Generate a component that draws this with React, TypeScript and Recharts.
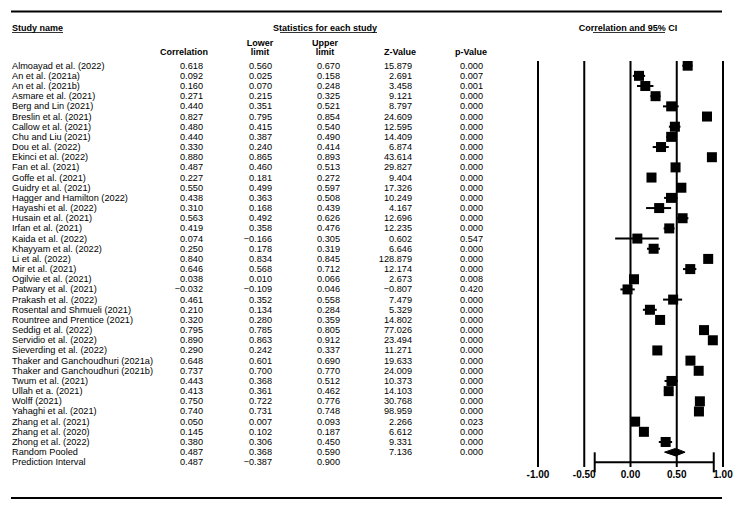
import { ComposedChart, Scatter, ErrorBar, Area, XAxis, YAxis, ReferenceLine } from 'recharts'

const studyNames = [
  'Almoayad et al. (2022)', 'An et al. (2021a)', 'An et al. (2021b)', 'Asmare et al. (2021)',
  'Berg and Lin (2021)', 'Breslin et al. (2021)', 'Callow et al. (2021)', 'Chu and Liu (2021)',
  'Dou et al. (2022)', 'Ekinci et al. (2022)', 'Fan et al. (2021)', 'Goffe et al. (2021)',
  'Guidry et al. (2021)', 'Hagger and Hamilton (2022)', 'Hayashi et al. (2022)', 'Husain et al. (2021)',
  'Irfan et al. (2021)', 'Kaida et al. (2022)', 'Khayyam et al. (2022)', 'Li et al. (2022)',
  'Mir et al. (2021)', 'Ogilvie et al. (2021)', 'Patwary et al. (2021)', 'Prakash et al. (2022)',
  'Rosental and Shmueli (2021)', 'Rountree and Prentice (2021)', 'Seddig et al. (2022)', 'Servidio et al. (2022)',
  'Sieverding et al. (2022)', 'Thaker and Ganchoudhuri (2021a)', 'Thaker and Ganchoudhuri (2021b)', 'Twum et al. (2021)',
  'Ullah et a. (2021)', 'Wolff (2021)', 'Yahaghi et al. (2021)', 'Zhang et al. (2021)',
  'Zhang et al. (2020)', 'Zhong et al. (2022)',
]
const correlation = [
  0.618, 0.092, 0.160, 0.271, 0.440, 0.827, 0.480, 0.440, 0.330, 0.880, 0.487, 0.227, 0.550,
  0.438, 0.310, 0.563, 0.419, 0.074, 0.250, 0.840, 0.646, 0.038, -0.032, 0.461, 0.210, 0.320,
  0.795, 0.890, 0.290, 0.648, 0.737, 0.443, 0.413, 0.750, 0.740, 0.050, 0.145, 0.380,
]
const lowerLimit = [
  0.560, 0.025, 0.070, 0.215, 0.351, 0.795, 0.415, 0.387, 0.240, 0.865, 0.460, 0.181, 0.499,
  0.363, 0.168, 0.492, 0.358, -0.166, 0.178, 0.834, 0.568, 0.010, -0.109, 0.352, 0.134, 0.280,
  0.785, 0.863, 0.242, 0.601, 0.700, 0.368, 0.361, 0.722, 0.731, 0.007, 0.102, 0.306,
]
const upperLimit = [
  0.670, 0.158, 0.248, 0.325, 0.521, 0.854, 0.540, 0.490, 0.414, 0.893, 0.513, 0.272, 0.597,
  0.508, 0.439, 0.626, 0.476, 0.305, 0.319, 0.845, 0.712, 0.066, 0.046, 0.558, 0.284, 0.359,
  0.805, 0.912, 0.337, 0.690, 0.770, 0.512, 0.462, 0.776, 0.748, 0.093, 0.187, 0.450,
]
const zValue = [
  15.879, 2.691, 3.458, 9.121, 8.797, 24.609, 12.595, 14.409, 6.874, 43.614, 29.827, 9.404, 17.326,
  10.249, 4.167, 12.696, 12.235, 0.602, 6.646, 128.879, 12.174, 2.673, -0.807, 7.479, 5.329, 14.802,
  77.026, 23.494, 11.271, 19.633, 24.009, 10.373, 14.103, 30.768, 98.959, 2.266, 6.612, 9.331,
]
const pValue = [
  0.000, 0.007, 0.001, 0.000, 0.000, 0.000, 0.000, 0.000, 0.000, 0.000, 0.000, 0.000, 0.000,
  0.000, 0.000, 0.000, 0.000, 0.547, 0.000, 0.000, 0.000, 0.008, 0.420, 0.000, 0.000, 0.000,
  0.000, 0.000, 0.000, 0.000, 0.000, 0.000, 0.000, 0.000, 0.000, 0.023, 0.000, 0.000,
]

// Random Pooled, Prediction Interval
const summaryNames = ['Random Pooled', 'Prediction Interval']
const summaryCorrelation = [0.487, 0.487]
const summaryLower = [0.368, -0.387]
const summaryUpper = [0.590, 0.900]
const summaryZ = [7.136, null]
const summaryP = [0.000, null]

const xTicks = [-1, -0.5, 0, 0.5, 1]

const FONT = '"Liberation Sans", Arial, sans-serif'

const allNames = [...studyNames, ...summaryNames]
const allCorr = [...correlation, ...summaryCorrelation]
const allLower = [...lowerLimit, ...summaryLower]
const allUpper = [...upperLimit, ...summaryUpper]
const allZ: (number | null)[] = [...zValue, ...summaryZ]
const allP: (number | null)[] = [...pValue, ...summaryP]
const rowTicks = allNames.map((_, i) => i)

const pooledRow = studyNames.length
const predRow = studyNames.length + 1

const studyPoints = studyNames.map((_, i) => ({
  x: correlation[i],
  row: i,
  ci: [correlation[i] - lowerLimit[i], upperLimit[i] - correlation[i]],
}))

const predPoint = [
  {
    x: summaryCorrelation[1],
    row: predRow,
    ci: [summaryCorrelation[1] - summaryLower[1], summaryUpper[1] - summaryCorrelation[1]],
  },
]

const diamondHalf = 0.37
const pooledDiamond = [
  { x: summaryLower[0], band: [pooledRow, pooledRow] },
  { x: summaryCorrelation[0], band: [pooledRow - diamondHalf, pooledRow + diamondHalf] },
  { x: summaryUpper[0], band: [pooledRow, pooledRow] },
]

const fmt = (v: number | null) => (v == null ? '' : v.toFixed(3).replace('-', '\u2212'))

function RowTick(props: any) {
  const { y, payload } = props
  const i = payload.value
  if (allNames[i] == null) return null
  const t = { y, fontFamily: FONT, fontSize: 9.2, fill: '#000', dominantBaseline: 'central' as const }
  return (
    <g>
      <text x={12} {...t}>{allNames[i]}</text>
      <text x={203} textAnchor="end" {...t}>{fmt(allCorr[i])}</text>
      <text x={272} textAnchor="end" {...t}>{fmt(allLower[i])}</text>
      <text x={340} textAnchor="end" {...t}>{fmt(allUpper[i])}</text>
      <text x={412} textAnchor="end" {...t}>{fmt(allZ[i])}</text>
      <text x={483} textAnchor="end" {...t}>{fmt(allP[i])}</text>
    </g>
  )
}

function AxisTick(props: any) {
  const { x, y, payload } = props
  return (
    <text x={x} y={y + 7} textAnchor="middle" dominantBaseline="central"
      fontFamily={FONT} fontSize={10} fontWeight="bold" fill="#000">
      {Number(payload.value).toFixed(2)}
    </text>
  )
}

const Square = (p: any) => <rect x={p.cx - 5} y={p.cy - 5} width={10} height={10} fill="#000" />

function Headers() {
  const b = { fontFamily: FONT, fontSize: 9, fontWeight: 'bold' as const, fill: '#000', dominantBaseline: 'central' as const }
  return (
    <svg width={737} height={509} style={{ position: 'absolute', left: 0, top: 0, pointerEvents: 'none' }}>
      <line x1={11} x2={722} y1={11.5} y2={11.5} stroke="#000" strokeWidth={2.2} />
      <line x1={11} x2={722} y1={498} y2={498} stroke="#000" strokeWidth={2.2} />
      <text x={12} y={28} {...b}>Study name</text>
      <line x1={12} x2={63} y1={32.5} y2={32.5} stroke="#000" strokeWidth={0.8} />
      <text x={325} y={28} textAnchor="middle" {...b}>Statistics for each study</text>
      <line x1={280} x2={377} y1={32.5} y2={32.5} stroke="#000" strokeWidth={0.8} />
      <text x={628} y={28} textAnchor="middle" {...b}>Correlation and 95% CI</text>
      <line x1={593} x2={665} y1={32.5} y2={32.5} stroke="#000" strokeWidth={0.8} />
      <text x={184} y={52} textAnchor="middle" {...b}>Correlation</text>
      <text x={260} y={43} textAnchor="middle" {...b}>Lower</text>
      <text x={260} y={52} textAnchor="middle" {...b}>limit</text>
      <text x={325} y={43} textAnchor="middle" {...b}>Upper</text>
      <text x={325} y={52} textAnchor="middle" {...b}>limit</text>
      <text x={400} y={52} textAnchor="middle" {...b}>Z-Value</text>
      <text x={471} y={52} textAnchor="middle" {...b}>p-Value</text>
    </svg>
  )
}

export default function App() {
  return (
    <div style={{ position: 'absolute', left: 0, top: 0, width: 737, height: 509, background: '#fff' }}>
      <ComposedChart width={737} height={509} margin={{ top: 61, right: 14, bottom: 22, left: 0 }}>
        <XAxis type="number" dataKey="x" domain={[-1, 1]} ticks={xTicks} interval={0}
          axisLine={false} tickLine={false} tickSize={0} tickMargin={0} height={20}
          tick={<AxisTick />} allowDataOverflow />
        <YAxis type="number" dataKey="row" domain={[-0.46, 39.46]} reversed ticks={rowTicks} interval={0}
          axisLine={false} tickLine={false} width={538} tick={<RowTick />} allowDataOverflow />
        {xTicks.map((t) => (
          <ReferenceLine key={t} x={t} stroke="#000" strokeWidth={2} />
        ))}
        <Area data={pooledDiamond} dataKey="band" type="linear" stroke="#000" strokeWidth={1}
          fill="#000" fillOpacity={1} dot={false} activeDot={false} isAnimationActive={false} />
        <Scatter data={studyPoints} shape={Square} isAnimationActive={false}>
          <ErrorBar dataKey="ci" direction="x" width={0} stroke="#000" strokeWidth={2} isAnimationActive={false} />
        </Scatter>
        <Scatter data={predPoint} shape={() => <g />} isAnimationActive={false}>
          <ErrorBar dataKey="ci" direction="x" width={10} stroke="#000" strokeWidth={2} isAnimationActive={false} />
        </Scatter>
      </ComposedChart>
      <Headers />
    </div>
  )
}
